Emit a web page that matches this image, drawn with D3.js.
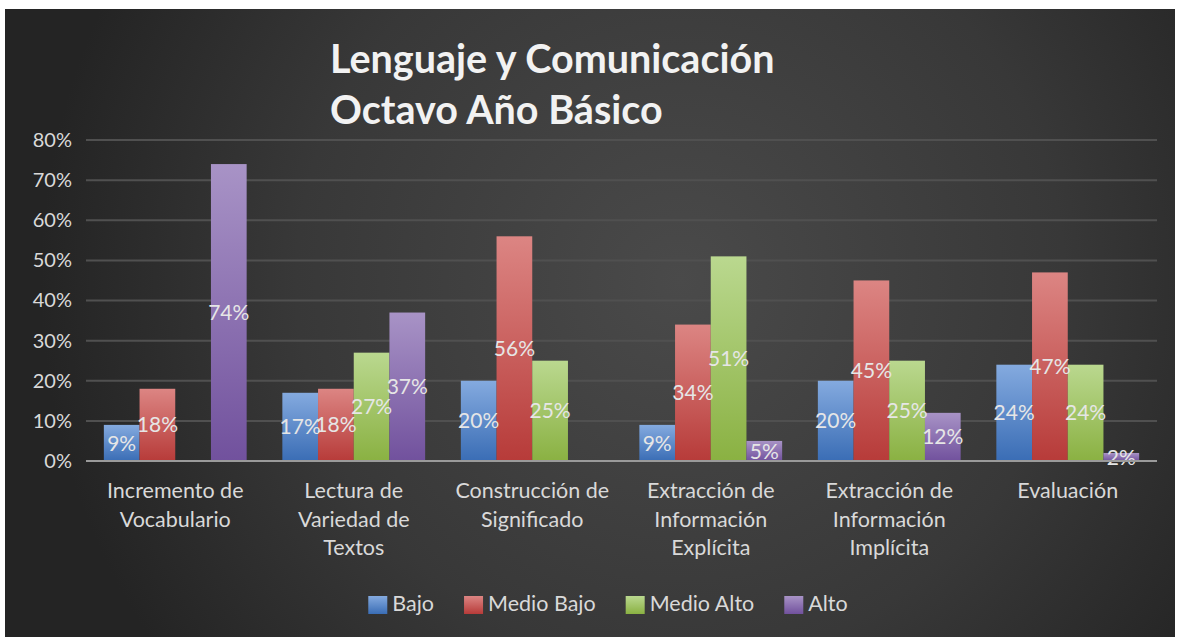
<!DOCTYPE html>
<html>
<head>
<meta charset="utf-8">
<script src="https://cdn.jsdelivr.net/npm/d3@7"></script>
<style>
  html, body { margin: 0; padding: 0; background: #fff; }
  svg { display: block; font-family: Lato, "Open Sans", sans-serif; }
</style>
</head>
<body>
<div id="chart"></div>
<script>
// Lenguaje y Comunicación - Octavo Año Básico, grouped bars per skill
var categories = [
  ["Incremento de", "Vocabulario"],
  ["Lectura de", "Variedad de", "Textos"],
  ["Construcción de", "Significado"],
  ["Extracción de", "Información", "Explícita"],
  ["Extracción de", "Información", "Implícita"],
  ["Evaluación"]
];
var seriesNames = ["Bajo", "Medio Bajo", "Medio Alto", "Alto"];
var bajo      = [0.09, 0.17, 0.20, 0.09, 0.20, 0.24];
var medioBajo = [0.18, 0.18, 0.56, 0.34, 0.45, 0.47];
var medioAlto = [0.00, 0.27, 0.25, 0.51, 0.25, 0.24];
var alto      = [0.74, 0.37, 0.00, 0.05, 0.12, 0.02];
var yTicks = [0, 0.1, 0.2, 0.3, 0.4, 0.5, 0.6, 0.7, 0.8];

var seriesValues = [bajo, medioBajo, medioAlto, alto];
var colorsTop    = ["#84aadf", "#dc8583", "#bad88f", "#a893c6"];
var colorsBottom = ["#3a6db5", "#b73b39", "#8ab142", "#71519d"];

var width = 1177, height = 637;
var plot = { left: 86, right: 1157, top: 140, bottom: 461 };

var svg = d3.select("#chart").append("svg")
    .attr("width", width)
    .attr("height", height);

var defs = svg.append("defs");

var bg = defs.append("radialGradient")
    .attr("id", "bg")
    .attr("gradientUnits", "userSpaceOnUse")
    .attr("cx", 680).attr("cy", 280).attr("r", 640);
bg.append("stop").attr("offset", "0%").attr("stop-color", "#4a4a4a");
bg.append("stop").attr("offset", "60%").attr("stop-color", "#383838");
bg.append("stop").attr("offset", "100%").attr("stop-color", "#242424");

seriesNames.forEach(function(s, i) {
  var g = defs.append("linearGradient")
      .attr("id", "grad" + i)
      .attr("x1", 0).attr("y1", 0).attr("x2", 0).attr("y2", 1);
  g.append("stop").attr("offset", "0%").attr("stop-color", colorsTop[i]);
  g.append("stop").attr("offset", "100%").attr("stop-color", colorsBottom[i]);
});

svg.append("rect")
    .attr("x", 5).attr("y", 9)
    .attr("width", 1170).attr("height", 628)
    .attr("fill", "url(#bg)");

var x0 = d3.scaleBand()
    .domain(d3.range(categories.length))
    .range([plot.left, plot.right])
    .paddingInner(0.2)
    .paddingOuter(0.1);

var x1 = d3.scaleBand()
    .domain(d3.range(seriesNames.length))
    .range([0, x0.bandwidth()]);

var y = d3.scaleLinear()
    .domain([0, 0.8])
    .range([plot.bottom, plot.top]);

// gridlines
svg.append("g")
    .selectAll("line")
    .data(yTicks.slice(1))
    .enter().append("line")
    .attr("x1", plot.left).attr("x2", plot.right)
    .attr("y1", function(d) { return y(d); })
    .attr("y2", function(d) { return y(d); })
    .attr("stroke", "#505050")
    .attr("stroke-width", 2);

// y axis labels
var yAxis = d3.axisLeft(y)
    .tickValues(yTicks)
    .tickFormat(d3.format(".0%"))
    .tickSize(0)
    .tickPadding(14);

svg.append("g")
    .attr("transform", "translate(" + plot.left + ",0)")
    .call(yAxis)
    .call(function(g) { g.select(".domain").remove(); })
    .selectAll("text")
    .attr("fill", "#d9d9d9")
    .style("font-size", "20px")
    .style("font-family", "Lato, 'Open Sans', sans-serif");

// bars
var groups = svg.append("g")
    .selectAll("g")
    .data(categories)
    .enter().append("g")
    .attr("transform", function(d, i) { return "translate(" + x0(i) + ",0)"; });

groups.each(function(c, ci) {
  var g = d3.select(this);
  seriesValues.forEach(function(vals, si) {
    var v = vals[ci];
    if (v > 0) {
      g.append("rect")
          .attr("x", x1(si))
          .attr("y", y(v))
          .attr("width", x1.bandwidth())
          .attr("height", y(0) - y(v))
          .attr("fill", "url(#grad" + si + ")");
    }
  });
});

// baseline
svg.append("line")
    .attr("x1", plot.left).attr("x2", plot.right)
    .attr("y1", y(0)).attr("y2", y(0))
    .attr("stroke", "#9a9a9a")
    .attr("stroke-width", 2);

// data labels
groups.each(function(c, ci) {
  var g = d3.select(this);
  seriesValues.forEach(function(vals, si) {
    var v = vals[ci];
    if (v > 0) {
      g.append("text")
          .attr("x", x1(si) + x1.bandwidth() / 2)
          .attr("y", (y(v) + y(0)) / 2)
          .attr("dy", "0.36em")
          .attr("text-anchor", "middle")
          .attr("fill", "#e6e6e6")
          .style("font-size", "21px")
          .text(Math.round(v * 100) + "%");
    }
  });
});

// category labels
var catLabels = svg.append("g")
    .selectAll("text")
    .data(categories)
    .enter().append("text")
    .attr("text-anchor", "middle")
    .attr("fill", "#d9d9d9")
    .style("font-size", "21.5px")
    .attr("transform", function(d, i) {
      return "translate(" + (x0(i) + x0.bandwidth() / 2) + ",498)";
    });

catLabels.selectAll("tspan")
    .data(function(d) { return d; })
    .enter().append("tspan")
    .attr("x", 0)
    .attr("y", function(d, i) { return i * 28.5; })
    .text(function(d) { return d; });

// title
var title = svg.append("text")
    .attr("x", 330)
    .attr("fill", "#f2f2f2")
    .style("font-size", "39.5px")
    .style("font-weight", "bold");
title.append("tspan").attr("x", 330).attr("y", 73).text("Lenguaje y Comunicación");
title.append("tspan").attr("x", 330).attr("y", 124).text("Octavo Año Básico");

// legend
var legend = svg.append("g");
var items = legend.selectAll("g")
    .data(seriesNames)
    .enter().append("g");

items.append("rect")
    .attr("width", 19).attr("height", 18)
    .attr("y", -15)
    .attr("fill", function(d, i) { return "url(#grad" + i + ")"; });

items.append("text")
    .attr("x", 24)
    .attr("fill", "#d9d9d9")
    .style("font-size", "21.5px")
    .text(function(d) { return d; });

var offsets = [], pos = 0;
items.each(function() {
  var w = 24 + d3.select(this).select("text").node().getComputedTextLength();
  offsets.push(pos);
  pos += w + 30;
});
var legendWidth = pos - 30;
var legendStart = 608 - legendWidth / 2;
items.attr("transform", function(d, i) {
  return "translate(" + (legendStart + offsets[i]) + ",611)";
});
</script>
</body>
</html>
